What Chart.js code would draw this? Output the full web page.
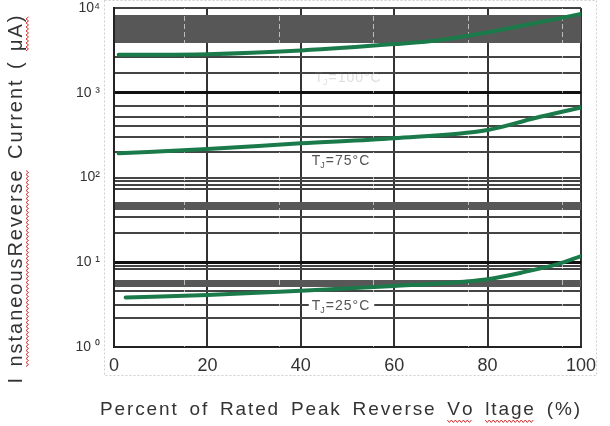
<!DOCTYPE html>
<html>
<head>
<meta charset="utf-8">
<script src="https://cdn.jsdelivr.net/npm/chart.js@4.4.1/dist/chart.umd.min.js"></script>
<style>
  html, body { margin: 0; padding: 0; background: #fff; }
</style>
</head>
<body>
<canvas id="chart" width="610" height="426"></canvas>
<script>
// curve data, x = percent of rated peak reverse voltage, y = current in uA
const tj100X = [1, 20, 40, 60, 70, 80, 90, 100];
const tj100Y = [2800, 2850, 3150, 3750, 4200, 5150, 6600, 8500];
const tj75X = [1, 20, 40, 60, 80, 90, 100];
const tj75Y = [193, 217, 253, 290, 363, 500, 670];
const tj25X = [2.5, 20, 40, 60, 75, 80, 88, 95, 100];
const tj25Y = [3.85, 4.1, 4.6, 5.25, 5.9, 6.3, 7.7, 9.5, 11.8];

// y axis: decade labels and the (irregular) horizontal rules of the original sheet
const yTickValues = [1, 10, 100, 1000, 10000];
const yTickLabels = ['10 \u2070', '10 \u00b9', '10\u00b2', '10 \u00b3', '10\u2074'];
const gridValues = [1, 2.2, 3.13, 4.58, 8.33, 9.03, 10, 22, 34, 73, 82, 91, 100,
                    200, 300, 400, 520, 700, 1000, 1700, 2640, 10000];
const bandRanges = [[5.1, 6.15], [41.4, 51.4], [3860, 8270]];
const dashValues = [15, 35.5, 55.5, 76, 96];

// x axis
const xTickValues = [0, 20, 40, 60, 80, 100];

// curve labels
const labelText = ['=100\u00b0C', '=75\u00b0C', '=25\u00b0C'];
const labelX = [50, 48.5, 48.5];
const labelY = [1535, 161, 3.13];

const yTitle = 'I nstaneousReverse Current ( \u03bcA)';
const xTitle = 'Percent of Rated Peak Reverse Vo ltage (%)';

const GREEN = '#1b7a4a';
const bandCenters = bandRanges.map(r => Math.sqrt(r[0] * r[1]));
const yTicks = gridValues.concat(bandCenters).sort((a, b) => a - b);

function bandFor(v) {
    return bandRanges.find((r, i) => Math.abs(bandCenters[i] - v) < 1e-6);
}

function toPoints(xs, ys) {
    return xs.map((x, i) => ({ x: x, y: ys[i] }));
}

// draw text char by char, stretched to a given length (spaces take more of the slack)
function drawSpaced(ctx, text, x0, y0, target, spaceWeight) {
    const chars = [...text];
    const widths = chars.map(ch => ctx.measureText(ch).width);
    const natural = widths.reduce((a, b) => a + b, 0);
    const weights = chars.map((ch, i) => i === chars.length - 1 ? 0 : (ch === ' ' ? spaceWeight : 1));
    const unit = (target - natural) / weights.reduce((a, b) => a + b, 0);
    const starts = [], ends = [];
    let x = x0;
    chars.forEach((ch, i) => {
        starts.push(x);
        ctx.fillText(ch, x, y0);
        ends.push(x + widths[i]);
        x += widths[i] + unit * weights[i];
    });
    return { starts, ends };
}

function squiggle(ctx, x1, x2, y) {
    ctx.save();
    ctx.strokeStyle = '#d83030';
    ctx.lineWidth = 1;
    ctx.beginPath();
    let k = 0;
    for (let x = x1; x <= x2; x += 2, k++) {
        const yy = y + (k % 2 ? 1.5 : -1);
        if (k === 0) ctx.moveTo(x, yy); else ctx.lineTo(x, yy);
    }
    ctx.stroke();
    ctx.restore();
}

const sheetPlugin = {
    id: 'sheet',
    beforeDraw(chart) {
        const { ctx, chartArea } = chart;
        ctx.save();
        ctx.fillStyle = '#fff';
        ctx.fillRect(0, 0, chart.width, chart.height);
        // dotted frame of the text box
        ctx.strokeStyle = '#cfcfcf';
        ctx.lineWidth = 1;
        ctx.setLineDash([2, 2]);
        ctx.strokeRect(chartArea.left - 9.5, 0.5, chartArea.right - chartArea.left + 25, chartArea.bottom + 28);
        ctx.restore();
    },
    afterDatasetsDraw(chart) {
        const { ctx, chartArea, scales } = chart;
        const styles = [
            { color: 'rgba(120,120,120,0.25)', box: false },
            { color: '#555', box: false },
            { color: '#555', box: true }
        ];
        ctx.save();
        labelText.forEach((txt, i) => {
            const cx = scales.x.getPixelForValue(labelX[i]);
            const cy = scales.y.getPixelForValue(labelY[i]);
            ctx.font = '14px "Liberation Sans", Arial, sans-serif';
            const wT = ctx.measureText('T').width;
            const wR = ctx.measureText(txt).width + txt.length * 0.8;
            ctx.font = '9px "Liberation Sans", Arial, sans-serif';
            const wJ = ctx.measureText('J').width + 1;
            const total = wT + wJ + wR;
            const x0 = cx - total / 2;
            if (styles[i].box) {
                ctx.fillStyle = '#fff';
                ctx.fillRect(x0 - 3, cy - 8, total + 8, 16);
            }
            ctx.fillStyle = styles[i].color;
            ctx.textBaseline = 'alphabetic';
            ctx.textAlign = 'left';
            ctx.font = '14px "Liberation Sans", Arial, sans-serif';
            ctx.fillText('T', x0, cy + 5);
            ctx.font = '9px "Liberation Sans", Arial, sans-serif';
            ctx.fillText('J', x0 + wT, cy + 8);
            ctx.font = '14px "Liberation Sans", Arial, sans-serif';
            drawSpaced(ctx, txt, x0 + wT + wJ, cy + 5, wR, 1);
        });

        // axis titles
        ctx.fillStyle = '#333';
        ctx.textAlign = 'left';
        ctx.textBaseline = 'alphabetic';
        ctx.font = '19px "Liberation Sans", Arial, sans-serif';
        const xt = drawSpaced(ctx, xTitle, chartArea.left - 14, chartArea.bottom + 68, 480, 3);
        squiggle(ctx, xt.starts[30], xt.ends[31], chartArea.bottom + 74);
        squiggle(ctx, xt.starts[33], xt.ends[37], chartArea.bottom + 74);

        ctx.save();
        ctx.translate(22, (chartArea.top + chartArea.bottom) / 2 + 22);
        ctx.rotate(-Math.PI / 2);
        ctx.font = '20px "Liberation Sans", Arial, sans-serif';
        const yt = drawSpaced(ctx, yTitle, -184, 0, 368, 2);
        squiggle(ctx, yt.starts[2], yt.ends[17], 5);
        squiggle(ctx, yt.starts[29], yt.ends[31], 5);
        ctx.restore();
        ctx.restore();
    }
};

const ctx = document.getElementById('chart').getContext('2d');
new Chart(ctx, {
    type: 'line',
    data: {
        datasets: [
            { label: 'TJ=100', data: toPoints(tj100X, tj100Y) },
            { label: 'TJ=75', data: toPoints(tj75X, tj75Y) },
            { label: 'TJ=25', data: toPoints(tj25X, tj25Y) }
        ]
    },
    options: {
        responsive: false,
        animation: false,
        layout: { padding: { top: 8, right: 29, left: 0, bottom: 0 } },
        elements: {
            point: { radius: 0 },
            line: { borderColor: GREEN, borderWidth: 4, cubicInterpolationMode: 'monotone', borderCapStyle: 'round' }
        },
        plugins: { legend: { display: false }, tooltip: { enabled: false } },
        scales: {
            x: {
                type: 'linear',
                min: 0,
                max: 100,
                afterBuildTicks: s => { s.ticks = xTickValues.map(v => ({ value: v })); },
                afterFit: s => { s.height = 79; },
                grid: { color: '#333', lineWidth: 2, drawTicks: false },
                border: { color: '#222', width: 2 },
                ticks: {
                    padding: 8,
                    color: '#333',
                    font: { family: '"Liberation Sans", Arial, sans-serif', size: 18 },
                    maxRotation: 0
                }
            },
            y: {
                type: 'logarithmic',
                min: 1,
                max: 10000,
                afterBuildTicks: s => { s.ticks = yTicks.map(v => ({ value: v })); },
                afterFit: s => { s.width = 114; s.paddingTop = 8; s.paddingBottom = 8; },
                grid: {
                    drawTicks: false,
                    color: c => {
                        const v = c.tick ? c.tick.value : 0;
                        if (bandFor(v)) return '#575757';
                        if (v === 10 || v === 1000) return '#111';
                        return '#444';
                    },
                    lineWidth: c => {
                        const v = c.tick ? c.tick.value : 0;
                        const b = bandFor(v);
                        if (b) return Math.abs(c.scale.getPixelForValue(b[0]) - c.scale.getPixelForValue(b[1]));
                        if (v === 10 || v === 1000) return 3;
                        return 2;
                    }
                },
                border: { color: '#222', width: 2 },
                ticks: {
                    autoSkip: false,
                    padding: 14,
                    color: '#333',
                    font: { family: '"Liberation Sans", Arial, sans-serif', size: 14 },
                    callback: v => {
                        const i = yTickValues.indexOf(v);
                        return i >= 0 ? yTickLabels[i] : '';
                    }
                }
            },
            x2: {
                type: 'linear',
                position: 'top',
                min: 0,
                max: 100,
                afterBuildTicks: s => { s.ticks = dashValues.map(v => ({ value: v })); },
                afterFit: s => { s.height = 0; },
                ticks: { display: false },
                grid: { color: 'rgba(255,255,255,0.6)', lineWidth: 1, drawTicks: false, z: 0 },
                border: { display: false, dash: [5, 3] }
            }
        }
    },
    plugins: [sheetPlugin]
});
</script>
</body>
</html>
